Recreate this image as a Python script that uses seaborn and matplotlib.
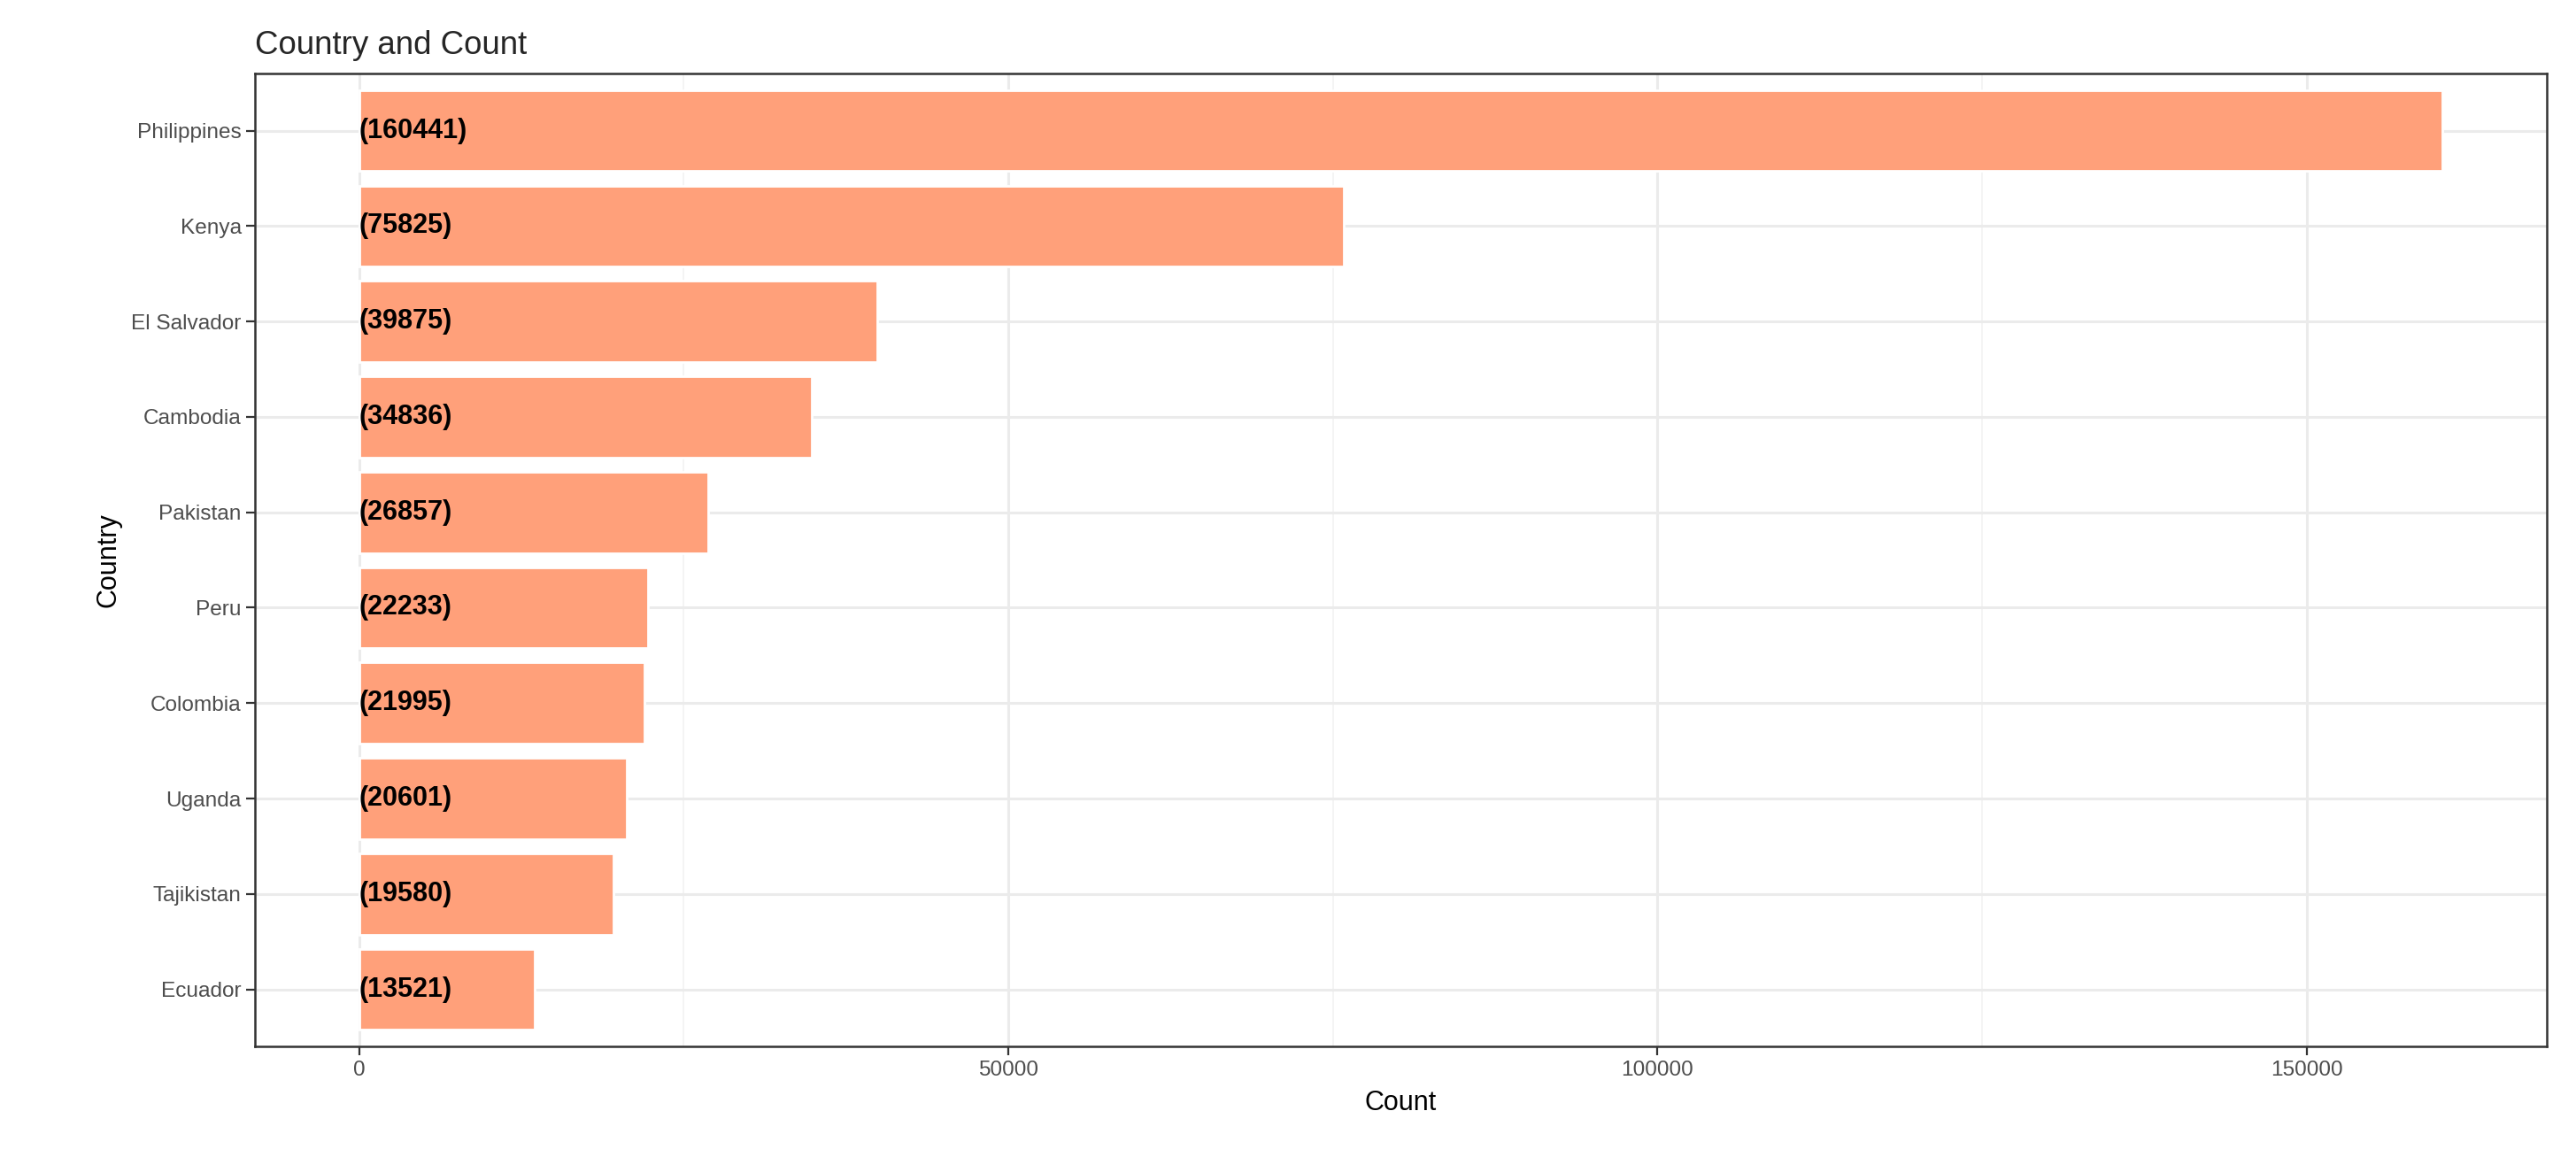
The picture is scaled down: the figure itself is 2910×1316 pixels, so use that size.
import matplotlib
matplotlib.use("Agg")
import matplotlib.pyplot as plt
import seaborn as sns
import pandas as pd

countries = ["Philippines", "Kenya", "El Salvador", "Cambodia", "Pakistan",
             "Peru", "Colombia", "Uganda", "Tajikistan", "Ecuador"]
counts = [160441, 75825, 39875, 34836, 26857, 22233, 21995, 20601, 19580, 13521]

df = pd.DataFrame({"Country": countries, "Count": counts})

sns.set_theme(style="white")
plt.rcParams['font.family'] = ['Liberation Sans', 'DejaVu Sans']

fig = plt.figure(figsize=(14.55, 6.58), dpi=200)
ax = fig.add_axes([0.099, 0.1016, 0.8895, 0.8354])

ax.set_axisbelow(True)
for v in [25000, 75000, 125000]:
    ax.axvline(v, color="#f2f2f2", linewidth=0.6, zorder=0)
for v in [0, 50000, 100000, 150000]:
    ax.axvline(v, color="#ebebeb", linewidth=1.1, zorder=0)
for i in range(len(countries)):
    ax.axhline(i, color="#ebebeb", linewidth=1.1, zorder=0)

sns.barplot(data=df, x="Count", y="Country", color="#FFA07A", saturation=1,
            width=0.85, ax=ax, zorder=2)

for i, c in enumerate(counts):
    ax.text(0, i, f"({c})", ha="left", va="center", fontsize=11,
            fontweight="bold", color="black", zorder=3)

xmax = max(counts)
ax.set_xlim(-0.05 * xmax, 1.05 * xmax)
ax.set_ylim(len(countries) - 0.4, -0.6)
ax.set_xticks([0, 50000, 100000, 150000])
ax.set_xticklabels(["0", "50000", "100000", "150000"])

for s in ax.spines.values():
    s.set_color("#333333")
    s.set_linewidth(0.9)
ax.tick_params(axis="both", which="both", length=3.5, width=0.8, color="#333333",
               labelsize=8.8, labelcolor="#4d4d4d", left=True, bottom=True, pad=2)
ax.set_xlabel("Count", fontsize=11, color="black")
ax.set_ylabel("Country", fontsize=11, color="black")
ax.set_title("Country and Count", fontsize=13.2, loc="left", x=-0.0, pad=8)
ax.title.set_position((-0.0, 1.0))

fig.savefig("out.png", dpi=200)
